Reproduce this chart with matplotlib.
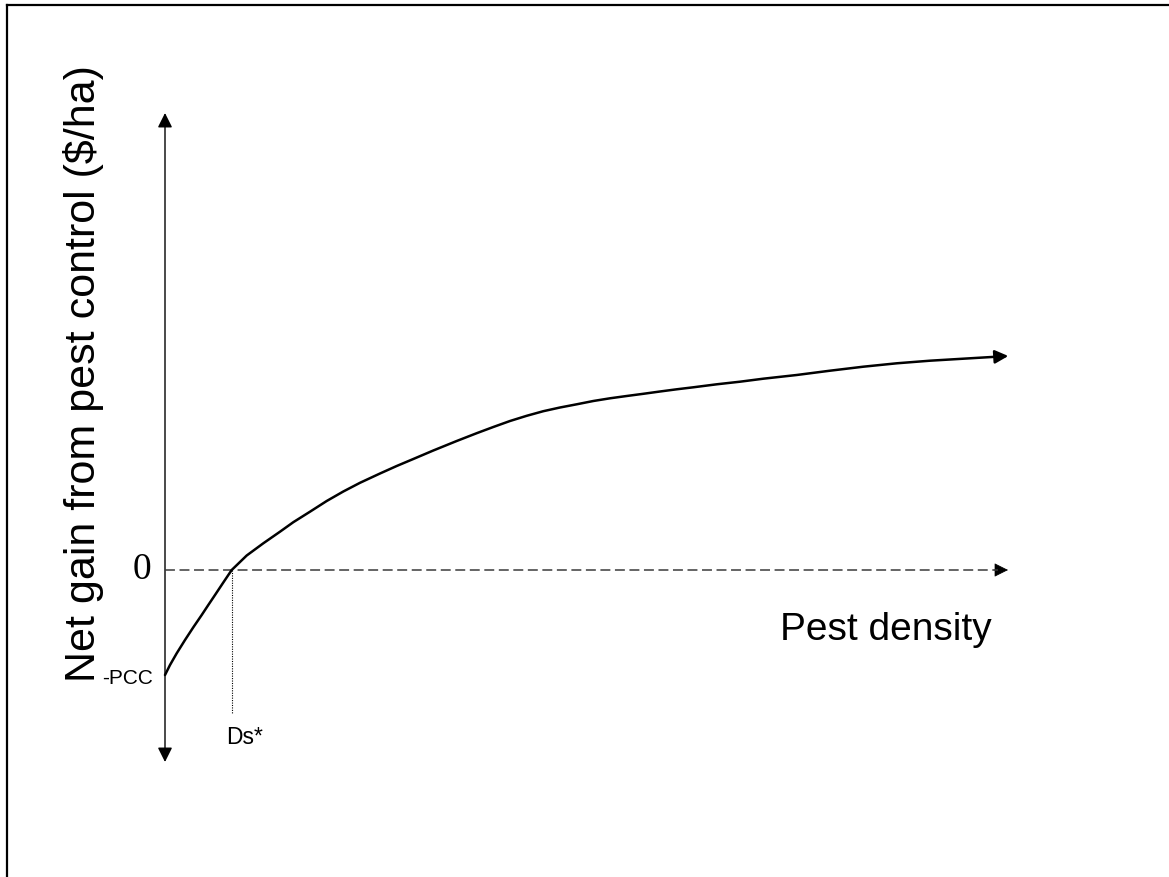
import matplotlib
matplotlib.use("Agg")
import matplotlib.pyplot as plt
from matplotlib.lines import Line2D
from matplotlib.patches import FancyArrowPatch

# Data (arbitrary units)
density = [0.0, 0.05, 0.117, 0.2, 0.283, 0.367, 0.433, 0.5, 0.583, 0.667,
           0.817, 0.983, 1.15, 1.283, 1.45, 1.617, 1.783, 1.95, 2.15, 2.317,
           2.483, 2.683, 2.917, 3.117, 3.283, 3.45, 3.617, 3.783, 3.95, 4.117,
           4.283, 4.45, 4.617, 4.783, 4.95, 5.117, 5.283, 5.517, 5.75, 5.983,
           6.317, 6.65, 6.983, 7.317, 7.65, 7.983, 8.317, 8.433]
net_gain = [-1.05, -0.95, -0.833, -0.70, -0.573, -0.45, -0.35, -0.25, -0.125, 0.0,
            0.145, 0.267, 0.383, 0.478, 0.583, 0.69, 0.785, 0.872, 0.965, 1.04,
            1.11, 1.195, 1.29, 1.368, 1.43, 1.49, 1.542, 1.588, 1.625, 1.657,
            1.69, 1.717, 1.74, 1.762, 1.785, 1.807, 1.827, 1.857, 1.883, 1.913,
            1.95, 1.993, 2.033, 2.067, 2.093, 2.113, 2.133, 2.14]
ds_star = 0.667
x_end = 8.43
y_axis_range = [-1.92, 4.57]

fig = plt.figure(figsize=(11.69, 8.77), dpi=100)
ax = fig.add_axes([0, 0, 1, 1])
ax.set_xlim(-1.65, 10.04)
ax.set_ylim(-3.07, 5.70)
ax.axis("off")

# border (left and top visible)
fig.add_artist(Line2D([7/1169, 7/1169], [0, 1 - 5/877], color="black", lw=1.6,
                      transform=fig.transFigure))
fig.add_artist(Line2D([7/1169, 1], [1 - 5/877, 1 - 5/877], color="black", lw=1.6,
                      transform=fig.transFigure))

# vertical double-headed axis
ax.add_patch(FancyArrowPatch((0, y_axis_range[0]), (0, y_axis_range[1]),
                             arrowstyle="<|-|>", mutation_scale=22, lw=1.0,
                             color="black", shrinkA=0, shrinkB=0))

# zero dashed line with arrow
ax.plot([0, x_end - 0.1], [0, 0], color="#3a3a3a", lw=1.1, dashes=(6.5, 3))
ax.add_patch(FancyArrowPatch((x_end - 0.14, 0), (x_end, 0), arrowstyle="-|>",
                             mutation_scale=22, lw=0.5, color="black",
                             shrinkA=0, shrinkB=0))

# curve
ax.plot(density[:-1], net_gain[:-1], color="black", lw=1.8,
        solid_joinstyle="round", solid_capstyle="round")
ax.add_patch(FancyArrowPatch((density[-2], net_gain[-2]), (density[-1], net_gain[-1]),
                             arrowstyle="-|>", mutation_scale=20, lw=1.8,
                             color="black", shrinkA=0, shrinkB=0))

# Ds* dotted line
ax.plot([ds_star, ds_star], [0, -1.43], color="black", lw=0.8, ls=(0, (1, 1.2)))

sans = ["Liberation Sans", "DejaVu Sans"]
serif = ["Liberation Serif", "DejaVu Serif"]

ax.text(-0.23, 0.0, "0", family=serif, fontsize=27, ha="center", va="center")
ax.text(-0.12, -1.08, "-PCC", family=sans, fontsize=15, ha="right", va="center")
ax.text(0.61, -1.67, "Ds*", family=sans, fontsize=16.5, ha="left", va="center")
ax.text(6.15, -0.70, "Pest density", family=sans, fontsize=28, ha="left",
        va="baseline")
ax.text(-0.81, 1.96, "Net gain from pest control ($/ha)", family=sans, fontsize=31,
        rotation=90, ha="center", va="center")

fig.savefig("out.png", dpi=100)
